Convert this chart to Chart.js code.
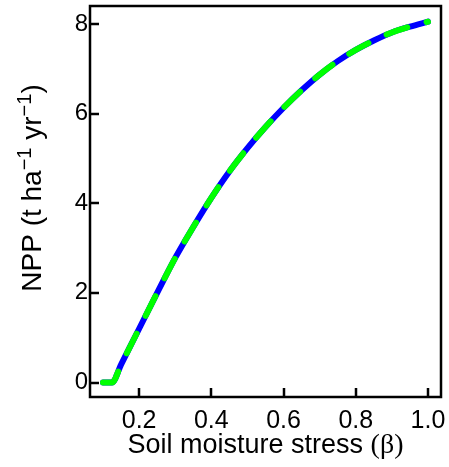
<!DOCTYPE html>
<html>
<head>
<meta charset="utf-8">
<script src="https://cdn.jsdelivr.net/npm/chart.js@4"></script>
<style>
  html, body { margin: 0; padding: 0; background: #fff; }
  #wrap { width: 449px; height: 467px; }
</style>
</head>
<body>
<div id="wrap"><canvas id="graficoNpp" width="449" height="467"></canvas></div>
<script>
// soil moisture stress factor (beta) and modelled NPP
const beta = [0.10, 0.125, 0.15, 0.20, 0.25, 0.30, 0.35, 0.40, 0.45, 0.50,
  0.55, 0.60, 0.65, 0.70, 0.75, 0.80, 0.85, 0.90, 0.95, 1.00];
const npp = [0, 0, 0.4, 1.2, 2.0, 2.78, 3.47, 4.12, 4.71, 5.23,
  5.70, 6.13, 6.52, 6.87, 7.17, 7.42, 7.63, 7.81, 7.94, 8.05];

const xTicks = [0.2, 0.4, 0.6, 0.8, 1.0];
const yTicks = [0, 2, 4, 6, 8];

const pontos = beta.map((b, i) => ({ x: b, y: npp[i] }));

const fonteSans = '"Liberation Sans", Arial, sans-serif';

// box, inward ticks and axis titles
const moldura = {
  id: 'moldura',
  afterDraw(chart) {
    const { ctx, chartArea: a, scales: { x, y } } = chart;
    ctx.save();
    ctx.strokeStyle = '#000';
    ctx.lineWidth = 2.5;
    ctx.strokeRect(a.left, a.top, a.right - a.left, a.bottom - a.top);

    ctx.beginPath();
    xTicks.forEach(v => {
      const px = Math.round(x.getPixelForValue(v));
      ctx.moveTo(px, a.bottom);
      ctx.lineTo(px, a.bottom - 9);
    });
    yTicks.forEach(v => {
      const py = Math.round(y.getPixelForValue(v));
      ctx.moveTo(a.left, py);
      ctx.lineTo(a.left + 9, py);
    });
    ctx.stroke();

    ctx.fillStyle = '#000';
    ctx.textBaseline = 'alphabetic';

    // x title
    const parte1 = 'Soil moisture stress ';
    const parte2 = '(\u03B2)';
    const fTitulo = '27px ' + fonteSans;
    const fGrego = '28px "Liberation Serif", "Times New Roman", serif';
    ctx.font = fTitulo;
    const w1 = ctx.measureText(parte1).width;
    ctx.font = fGrego;
    const w2 = ctx.measureText(parte2).width;
    const xs = (a.left + a.right) / 2 - (w1 + w2) / 2;
    ctx.textAlign = 'left';
    ctx.font = fTitulo;
    ctx.fillText(parte1, xs, 453);
    ctx.font = fGrego;
    ctx.fillText(parte2, xs + w1, 453);

    // y title with superscripts
    const pedacos = [
      { t: 'NPP (t ha', sup: false },
      { t: '\u22121', sup: true },
      { t: ' yr', sup: false },
      { t: '\u22121', sup: true },
      { t: ')', sup: false }
    ];
    const fNormal = '28px ' + fonteSans;
    const fSup = '20px ' + fonteSans;
    let total = 0;
    pedacos.forEach(p => {
      ctx.font = p.sup ? fSup : fNormal;
      p.w = ctx.measureText(p.t).width;
      total += p.w;
    });
    ctx.translate(41, 188);
    ctx.rotate(-Math.PI / 2);
    let pos = -total / 2;
    pedacos.forEach(p => {
      ctx.font = p.sup ? fSup : fNormal;
      ctx.fillText(p.t, pos, p.sup ? -10 : 0);
      pos += p.w;
    });
    ctx.restore();
  }
};

// fixed axis sizes, no extra room for overhanging labels
function semPadding(s) {
  s.paddingLeft = 0;
  s.paddingRight = 0;
  s.paddingTop = 0;
  s.paddingBottom = 0;
}

new Chart(document.getElementById('graficoNpp').getContext('2d'), {
  type: 'line',
  data: {
    datasets: [
      {
        data: pontos,
        borderColor: '#00ff00',
        borderWidth: 6,
        borderDash: [22, 20],
        borderCapStyle: 'round',
        borderJoinStyle: 'round',
        cubicInterpolationMode: 'monotone',
        pointRadius: 0,
        fill: false
      },
      {
        data: pontos,
        borderColor: '#0000ff',
        borderWidth: 6,
        borderCapStyle: 'round',
        borderJoinStyle: 'round',
        cubicInterpolationMode: 'monotone',
        pointRadius: 0,
        fill: false
      }
    ]
  },
  options: {
    responsive: false,
    animation: false,
    devicePixelRatio: 1,
    layout: { padding: { top: 6, right: 8, left: 0, bottom: 0 } },
    plugins: {
      legend: { display: false },
      tooltip: { enabled: false }
    },
    scales: {
      x: {
        type: 'linear',
        min: 0.064,
        max: 1.036,
        afterBuildTicks: s => { s.ticks = xTicks.map(v => ({ value: v })); },
        afterFit: s => { s.height = 70; semPadding(s); },
        grid: { display: false, drawTicks: false },
        border: { display: false },
        ticks: {
          padding: 9,
          color: '#000',
          font: { family: fonteSans, size: 25 },
          callback: v => v.toFixed(1)
        }
      },
      y: {
        type: 'linear',
        min: -0.323,
        max: 8.40,
        afterBuildTicks: s => { s.ticks = yTicks.map(v => ({ value: v })); },
        afterFit: s => { s.width = 90; semPadding(s); },
        grid: { display: false, drawTicks: false },
        border: { display: false },
        ticks: {
          padding: 2,
          color: '#000',
          font: { family: fonteSans, size: 24 },
          callback: v => String(v)
        }
      }
    }
  },
  plugins: [moldura]
});
</script>
</body>
</html>
